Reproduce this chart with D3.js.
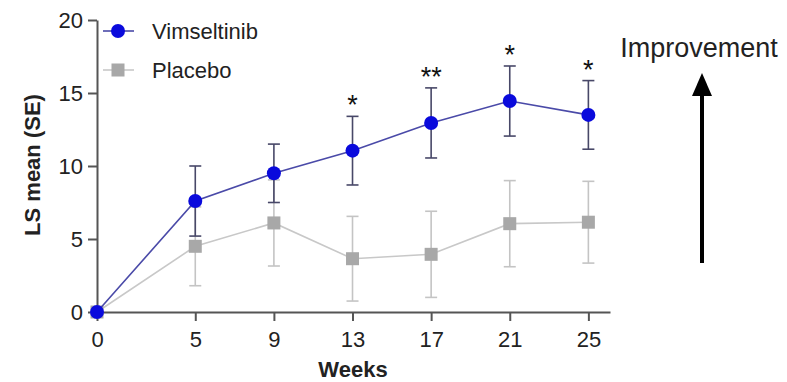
<!DOCTYPE html>
<html>
<head>
<meta charset="utf-8">
<script src="https://cdn.jsdelivr.net/npm/d3@7"></script>
<style>
  body { margin: 0; background: #fff; }
  svg { font-family: 'Liberation Sans', Arial, sans-serif; }
</style>
</head>
<body>
<svg></svg>
<script>
let width = 787;
let height = 382;

const weeks = [0, 5, 9, 13, 17, 21, 25];
const vimMean = [0, 7.6, 9.5, 11.05, 12.95, 14.45, 13.5];
const vimSE = [0, 2.4, 2.0, 2.35, 2.4, 2.4, 2.35];
const placeboMean = [0, 4.5, 6.1, 3.65, 3.95, 6.05, 6.15];
const placeboSE = [0, 2.7, 2.95, 2.9, 2.95, 2.95, 2.8];
const stars = ['', '', '', '*', '**', '*', '*'];
const yTicks = [0, 5, 10, 15, 20];

let x = d3.scaleLinear().domain([0, 26.1]).range([97, 610]);
let y = d3.scaleLinear().domain([0, 20]).range([312, 20]);

let svg = d3.select('svg')
            .attr('width', width)
            .attr('height', height);

// axes
let xAxis = svg.append('g')
  .attr('transform', `translate(0, ${y(0)})`)
  .call(d3.axisBottom(x).tickValues(weeks).tickSize(9).tickPadding(6).tickSizeOuter(0));

let yAxis = svg.append('g')
  .attr('transform', `translate(${x(0)}, 0)`)
  .call(d3.axisLeft(y).tickValues(yTicks).tickSize(9).tickPadding(4).tickSizeOuter(0));

[xAxis, yAxis].forEach(g => {
  g.select('.domain').attr('stroke', '#555').attr('stroke-width', 2);
  g.selectAll('.tick line').attr('stroke', '#555').attr('stroke-width', 2);
  g.selectAll('.tick text')
    .attr('fill', '#222')
    .style('font-size', '22px')
    .style('font-family', "'Liberation Sans', Arial, sans-serif");
});
xAxis.selectAll('.tick text').attr('dy', '0.9em');
yAxis.selectAll('.tick text').attr('dx', '-1px');

svg.append('text')
  .attr('x', 353)
  .attr('y', 377)
  .attr('text-anchor', 'middle')
  .style('font-size', '22px')
  .style('font-weight', 'bold')
  .attr('fill', '#222')
  .text('Weeks');

svg.append('text')
  .attr('transform', 'translate(40, 165) rotate(-90)')
  .attr('text-anchor', 'middle')
  .style('font-size', '22px')
  .style('font-weight', 'bold')
  .attr('fill', '#222')
  .text('LS mean (SE)');

function drawSeries(mean, se, opts) {
  let data = weeks.map((w, i) => ({ w, m: mean[i], s: se[i] }));
  let g = svg.append('g');

  g.append('path')
    .datum(data)
    .attr('fill', 'none')
    .attr('stroke', opts.line)
    .attr('stroke-width', 1.6)
    .attr('d', d3.line().x(d => x(d.w)).y(d => y(d.m)));

  let bars = g.selectAll('.err')
    .data(data.filter(d => d.s > 0))
    .enter()
    .append('g')
      .attr('stroke', opts.err)
      .attr('stroke-width', 1.6);
  bars.append('line')
    .attr('x1', d => x(d.w)).attr('x2', d => x(d.w))
    .attr('y1', d => y(d.m + d.s)).attr('y2', d => y(d.m - d.s));
  bars.append('line')
    .attr('x1', d => x(d.w) - 6).attr('x2', d => x(d.w) + 6)
    .attr('y1', d => y(d.m + d.s)).attr('y2', d => y(d.m + d.s));
  bars.append('line')
    .attr('x1', d => x(d.w) - 6).attr('x2', d => x(d.w) + 6)
    .attr('y1', d => y(d.m - d.s)).attr('y2', d => y(d.m - d.s));

  if (opts.shape === 'circle') {
    g.selectAll('.pt').data(data).enter()
      .append('circle')
        .attr('cx', d => x(d.w))
        .attr('cy', d => y(d.m))
        .attr('r', 7)
        .attr('fill', opts.fill);
  } else {
    g.selectAll('.pt').data(data).enter()
      .append('rect')
        .attr('x', d => x(d.w) - 6.5)
        .attr('y', d => y(d.m) - 6.5)
        .attr('width', 13)
        .attr('height', 13)
        .attr('fill', opts.fill);
  }
  return data;
}

drawSeries(placeboMean, placeboSE, { line: '#c8c8c8', err: '#c4c4c4', fill: '#a8a8a8', shape: 'rect' });
let vimData = drawSeries(vimMean, vimSE, { line: '#4a4aa8', err: '#484868', fill: '#0a0adc', shape: 'circle' });

// significance stars
svg.selectAll('.star')
  .data(vimData.map((d, i) => ({ ...d, t: stars[i] })).filter(d => d.t))
  .enter()
  .append('text')
    .attr('x', d => x(d.w))
    .attr('y', d => y(d.m + d.s) - 2)
    .attr('text-anchor', 'middle')
    .style('font-size', '27px')
    .attr('fill', '#111')
    .text(d => d.t);

// legend
let legend = [
  { name: 'Vimseltinib', shape: 'circle', fill: '#0a0adc', line: '#4a4aa8', y: 31 },
  { name: 'Placebo', shape: 'rect', fill: '#a8a8a8', line: '#c8c8c8', y: 70 }
];
let lg = svg.selectAll('.legend').data(legend).enter().append('g');
lg.append('line')
  .attr('x1', 103).attr('x2', 134)
  .attr('y1', d => d.y).attr('y2', d => d.y)
  .attr('stroke', d => d.line).attr('stroke-width', 1.6);
lg.filter(d => d.shape === 'circle').append('circle')
  .attr('cx', 118).attr('cy', d => d.y).attr('r', 7).attr('fill', d => d.fill);
lg.filter(d => d.shape === 'rect').append('rect')
  .attr('x', 111.5).attr('y', d => d.y - 6.5).attr('width', 13).attr('height', 13)
  .attr('fill', d => d.fill);
lg.append('text')
  .attr('x', 152).attr('y', d => d.y + 8)
  .style('font-size', '22px')
  .attr('fill', '#222')
  .text(d => d.name);

// improvement arrow
svg.append('text')
  .attr('x', 699).attr('y', 57)
  .attr('text-anchor', 'middle')
  .style('font-size', '27px')
  .attr('fill', '#222')
  .text('Improvement');
svg.append('line')
  .attr('x1', 702).attr('x2', 702)
  .attr('y1', 263).attr('y2', 92)
  .attr('stroke', '#000').attr('stroke-width', 4);
svg.append('path')
  .attr('d', 'M702,73 L712,96 L692,96 Z')
  .attr('fill', '#000');
</script>
</body>
</html>
